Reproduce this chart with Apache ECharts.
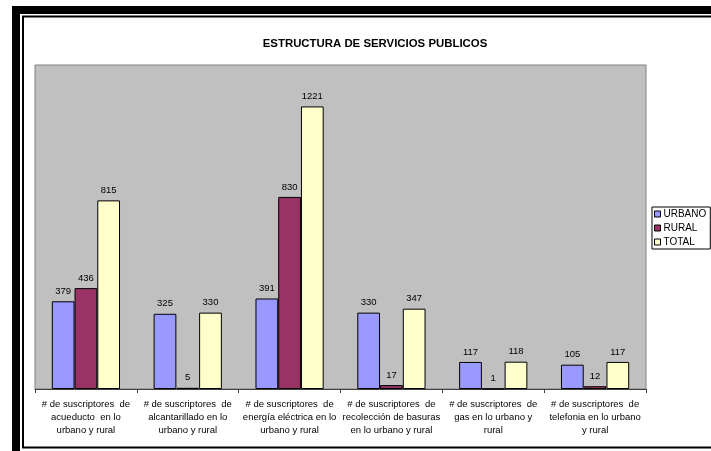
<!DOCTYPE html>
<html>
<head>
<meta charset="utf-8">
<script src="https://cdn.jsdelivr.net/npm/echarts@6/dist/echarts.min.js"></script>
<style>
  html, body { margin: 0; padding: 0; background: #fff; }
  #chart { width: 711px; height: 451px; }
</style>
</head>
<body>
<div id="chart"></div>
<script>
const categories = [
  '# de suscriptores  de\nacueducto  en lo\nurbano y rural',
  '# de suscriptores  de\nalcantarillado en lo\nurbano y rural',
  '# de suscriptores  de\nenergía eléctrica en lo\nurbano y rural',
  '# de suscriptores  de\nrecolección de basuras\nen lo urbano y rural',
  '# de suscriptores  de\ngas en lo urbano y\nrural',
  '# de suscriptores  de\ntelefonia en lo urbano\ny rural'
]
const urbano = [379, 325, 391, 330, 117, 105]
const rural = [436, 5, 830, 17, 1, 12]
const total = [815, 330, 1221, 347, 118, 117]

const chart = echarts.init(document.getElementById('chart'))

function barSeries(name, data, color) {
  return {
    name,
    type: 'bar',
    data,
    barGap: '0%',
    barCategoryGap: '33%',
    itemStyle: { color, borderColor: '#000', borderWidth: 1 },
    label: { show: true, position: 'top', distance: 5, color: '#000', fontSize: 9.5, fontFamily: 'Arial' },
  }
}

chart.setOption({
  animation: false,
  backgroundColor: '#fff',
  title: {
    text: 'ESTRUCTURA DE SERVICIOS PUBLICOS',
    left: 370, top: 33, textAlign: 'center',
    textStyle: { fontSize: 11.4, fontWeight: 'bold', fontFamily: 'Arial', color: '#000' },
  },
  legend: {
    orient: 'vertical',
    left: 652, top: 207,
    itemWidth: 6, itemHeight: 6, itemGap: 4,
    padding: [2, 4, 2, 2],
    backgroundColor: '#fff', borderColor: '#000', borderWidth: 1,
    icon: 'rect',
    textStyle: { fontSize: 10, fontFamily: 'Arial', color: '#000', padding: [0, 0, 0, -2] },
    itemStyle: { borderColor: '#000', borderWidth: 1 },
  },
  grid: { left: 35, right: 65, top: 65, bottom: 62, show: true, backgroundColor: '#c0c0c0', borderColor: '#808080', borderWidth: 1 },
  xAxis: {
    type: 'category',
    data: categories,
    axisLine: { lineStyle: { color: '#404040' } },
    axisTick: { show: true, length: 4, lineStyle: { color: '#404040' } },
    axisLabel: { interval: 0, fontSize: 9.5, fontFamily: 'Arial', color: '#000', lineHeight: 13, margin: 9 },
  },
  yAxis: {
    type: 'value', min: 0, max: 1400,
    show: false, splitLine: { show: false },
  },
  series: [
    barSeries('URBANO', urbano, '#9999ff'),
    barSeries('RURAL', rural, '#993366'),
    barSeries('TOTAL', total, '#ffffcc'),
  ],
  graphic: [
    { type: 'rect', shape: { x: 12, y: 6, width: 699, height: 8 }, style: { fill: '#000' } },
    { type: 'rect', shape: { x: 12, y: 6, width: 8, height: 445 }, style: { fill: '#000' } },
    { type: 'rect', shape: { x: 23, y: 16.5, width: 700, height: 431 }, style: { fill: 'none', stroke: '#000', lineWidth: 2 } },
  ],
})
</script>
</body>
</html>
